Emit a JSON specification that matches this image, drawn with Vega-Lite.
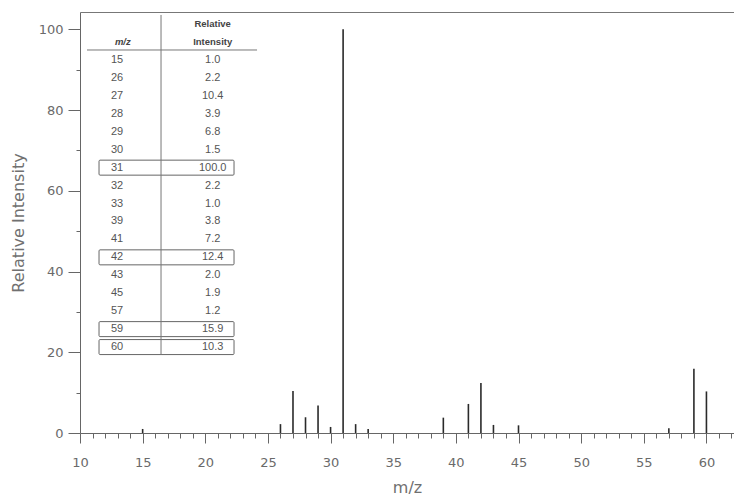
{
  "$schema": "https://vega.github.io/schema/vega-lite/v6.json",
  "width": 654,
  "height": 421,
  "autosize": {"type": "none"},
  "padding": {"left": 80, "top": 12, "right": 0, "bottom": 67},
  "background": "white",
  "config": {
    "view": {"stroke": null},
    "axis": {"grid": false, "labelFont": "DejaVu Sans", "titleFont": "DejaVu Sans", "titleFontWeight": "normal"}
  },
  "datasets": {
    "spectrum": [
      {"mz": 15, "intensity": 1.0},
      {"mz": 26, "intensity": 2.2},
      {"mz": 27, "intensity": 10.4},
      {"mz": 28, "intensity": 3.9},
      {"mz": 29, "intensity": 6.8},
      {"mz": 30, "intensity": 1.5},
      {"mz": 31, "intensity": 100.0},
      {"mz": 32, "intensity": 2.2},
      {"mz": 33, "intensity": 1.0},
      {"mz": 39, "intensity": 3.8},
      {"mz": 41, "intensity": 7.2},
      {"mz": 42, "intensity": 12.4},
      {"mz": 43, "intensity": 2.0},
      {"mz": 45, "intensity": 1.9},
      {"mz": 57, "intensity": 1.2},
      {"mz": 59, "intensity": 15.9},
      {"mz": 60, "intensity": 10.3}
    ]
  },
  "layer": [
    {
      "data": {"name": "spectrum"},
      "mark": {"type": "rule", "color": "#2a2a2a", "strokeWidth": 1.6},
      "encoding": {
        "x": {
          "field": "mz", "type": "quantitative",
          "scale": {"domain": [10, 62.2], "nice": false, "zero": false},
          "axis": {
            "values": [10,11,12,13,14,15,16,17,18,19,20,21,22,23,24,25,26,27,28,29,30,31,32,33,34,35,36,37,38,39,40,41,42,43,44,45,46,47,48,49,50,51,52,53,54,55,56,57,58,59,60,61,62],
            "labelExpr": "datum.value % 5 === 0 ? datum.label : ''",
            "tickSize": {"condition": {"test": "datum.value % 5 === 0", "value": 10}, "value": 5},
            "labelFlush": false,
            "labelOverlap": false,
            "labelPadding": 13,
            "labelFontSize": 13,
            "labelColor": "#6a6a6a",
            "domainColor": "#666666",
            "tickColor": "#666666",
            "title": "m/z",
            "titleFontSize": 16,
            "titleColor": "#707070",
            "titlePadding": 10
          }
        },
        "y": {
          "field": "intensity", "type": "quantitative",
          "scale": {"domain": [0, 104.3], "nice": false},
          "axis": {
            "values": [0,10,20,30,40,50,60,70,80,90,100],
            "labelExpr": "datum.value % 20 === 0 ? datum.label : ''",
            "tickSize": {"condition": {"test": "datum.value % 20 === 0", "value": 12}, "value": 4},
            "labelOverlap": false,
            "labelPadding": 5,
            "labelFontSize": 13,
            "labelColor": "#6a6a6a",
            "domainColor": "#666666",
            "tickColor": "#666666",
            "title": "Relative Intensity",
            "titleFontSize": 16,
            "titleColor": "#707070",
            "titlePadding": 12
          }
        },
        "y2": {"datum": 0}
      }
    },
    {
      "layer": [
        {
          "data": {"name": "spectrum"},
          "transform": [{"window": [{"op": "row_number", "as": "row"}], "sort": [{"field": "mz"}]}],
          "mark": {"type": "text", "font": "Liberation Sans", "fontSize": 11, "color": "#555555", "align": "center", "baseline": "middle"},
          "encoding": {
            "x": {"datum": 0.881, "type": "quantitative", "scale": {"domain": [0.4405, 8.226], "nice": false, "zero": false}, "axis": {"orient": "top", "labels": false, "ticks": false, "domain": true, "domainColor": "#777777", "title": null}},
            "y": {"field": "row", "type": "quantitative", "scale": {"domain": [-1.676, 21.79], "nice": false, "zero": false, "reverse": true}, "axis": null},
            "text": {"field": "mz", "type": "quantitative"}
          }
        },
        {
          "data": {"name": "spectrum"},
          "transform": [{"window": [{"op": "row_number", "as": "row"}], "sort": [{"field": "mz"}]}],
          "mark": {"type": "text", "font": "Liberation Sans", "fontSize": 11, "color": "#555555", "align": "center", "baseline": "middle"},
          "encoding": {
            "x": {"datum": 2.02, "type": "quantitative"},
            "y": {"field": "row", "type": "quantitative"},
            "text": {"field": "intensity", "type": "quantitative", "format": ".1f"}
          }
        },
        {
          "data": {"name": "spectrum"},
          "transform": [
            {"window": [{"op": "row_number", "as": "row"}], "sort": [{"field": "mz"}]},
            {"filter": "datum.mz == 31 || datum.mz == 42 || datum.mz == 59 || datum.mz == 60"}
          ],
          "mark": {"type": "rect", "fill": null, "stroke": "#666666", "strokeWidth": 1, "yOffset": -7.5, "y2Offset": 7.5, "cornerRadius": 1},
          "encoding": {
            "x": {"datum": 0.667, "type": "quantitative"},
            "x2": {"datum": 2.274},
            "y": {"field": "row", "type": "quantitative"},
            "y2": {"field": "row"}
          }
        },
        {
          "data": {"values": [{}]},
          "mark": {"type": "rule", "color": "#777777", "strokeWidth": 1},
          "encoding": {
            "x": {"datum": 1.405, "type": "quantitative"},
            "y": {"datum": -1.51, "type": "quantitative"},
            "y2": {"datum": 17.44}
          }
        },
        {
          "data": {"values": [{}]},
          "mark": {"type": "rule", "color": "#777777", "strokeWidth": 1},
          "encoding": {
            "x": {"datum": 0.524, "type": "quantitative"},
            "x2": {"datum": 2.548},
            "y": {"datum": 0.442, "type": "quantitative"}
          }
        },
        {
          "data": {"values": [{}]},
          "mark": {"type": "text", "font": "Liberation Sans", "fontSize": 9.5, "fontWeight": "bold", "fontStyle": "italic", "color": "#444444", "align": "center", "baseline": "middle"},
          "encoding": {
            "x": {"datum": 0.95, "type": "quantitative"},
            "y": {"datum": 0, "type": "quantitative"},
            "text": {"value": "m/z"}
          }
        },
        {
          "data": {"values": [{}]},
          "mark": {"type": "text", "font": "Liberation Sans", "fontSize": 9.5, "fontWeight": "bold", "color": "#444444", "align": "center", "baseline": "middle"},
          "encoding": {
            "x": {"datum": 2.02, "type": "quantitative"},
            "y": {"datum": -1, "type": "quantitative"},
            "text": {"value": "Relative"}
          }
        },
        {
          "data": {"values": [{}]},
          "mark": {"type": "text", "font": "Liberation Sans", "fontSize": 9.5, "fontWeight": "bold", "color": "#444444", "align": "center", "baseline": "middle"},
          "encoding": {
            "x": {"datum": 2.02, "type": "quantitative"},
            "y": {"datum": 0, "type": "quantitative"},
            "text": {"value": "Intensity"}
          }
        }
      ]
    }
  ],
  "resolve": {"scale": {"x": "independent", "y": "independent"}, "axis": {"x": "independent", "y": "independent"}}
}
